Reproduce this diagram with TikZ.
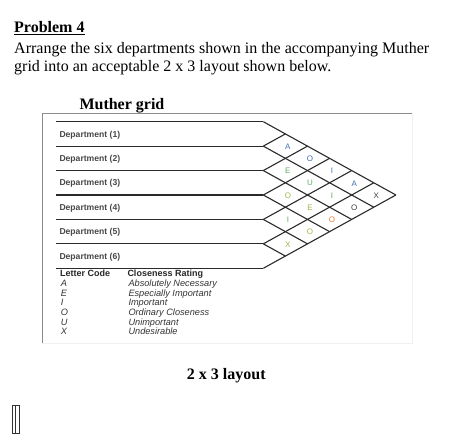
\documentclass[tikz,border=0pt]{standalone}
\usepackage{fontspec}
\setmainfont{Liberation Serif}
\newfontfamily\gridfont{Liberation Sans}
\usepackage{tikz}
\usepackage{color}
\usetikzlibrary{positioning}

\definecolor{codeblue}{HTML}{3F6FB0}
\definecolor{codegreen}{HTML}{5FAA62}
\definecolor{codelime}{HTML}{97B84E}
\definecolor{codeorange}{HTML}{EA7A36}
\definecolor{codegray}{HTML}{404040}
\definecolor{gridline}{HTML}{2A2A2A}

\tikzset{
  heading/.style={anchor=base west,inner sep=0pt,font=\fontsize{16}{18}\selectfont},
  deptlabel/.style={anchor=base west,inner sep=0pt,text=black!72,font=\gridfont\bfseries\fontsize{8.6}{10}\selectfont},
  legendhead/.style={anchor=base west,inner sep=0pt,text=black!85,font=\gridfont\bfseries\fontsize{9}{10}\selectfont},
  legenditem/.style={anchor=base west,inner sep=0pt,text=black!80,font=\gridfont\itshape\fontsize{9.2}{10}\selectfont},
  code/.style={inner sep=0pt,font=\gridfont\fontsize{8}{8}\selectfont}
}

\begin{document}
\begin{tikzpicture}[x=1pt,y=-1pt]
  \useasboundingbox (0,0) rectangle (474,442);
  % problem text
  \node[heading] (prob) at (14,32.5) {\textbf{\underline{Problem 4}}};
  \node[heading] (line1) at (14,53.3) {Arrange the six departments shown in the accompanying Muther};
  \node[heading] (line2) at (14,71.8) {grid into an acceptable 2 x 3 layout shown below.};
  \node[heading] (mgrid) at (79.3,109) {\textbf{Muther grid}};
  % frame of the grid picture
  \draw[black!6,line width=0.8pt] (412,113.3) -- (412,343) -- (42,343);
  \draw[black!45,line width=0.9pt] (42,343) -- (42,113.3) -- (412,113.3);
  % rows and diamonds
  \coordinate (apex) at (395.9,195);
  \foreach \k in {0,...,6}{
    \coordinate (l\k) at (56,121.7+\k*24.43);
    \coordinate (b\k) at (263.3,121.7+\k*24.43);
    \draw[gridline,line width=1.1pt] (l\k) -- (b\k);
  }
  \foreach \k in {0,...,5}
    \draw[gridline,line width=1.1pt] (b\k) -- (263.3+6*22.1-\k*22.1,121.7+6*12.215+\k*12.215);
  \foreach \k in {1,...,6}
    \draw[gridline,line width=1.1pt] (b\k) -- (263.3+\k*22.1,121.7+\k*12.215);
  % department names
  \foreach \d in {1,...,6}
    \node[deptlabel] (dept\d) at (59.3,137.1+\d*24.43-24.43) {Department (\d)};
  % closeness codes
  \foreach \i/\j/\c/\col in {1/2/A/codeblue,1/3/O/codeblue,1/4/I/codeblue,1/5/A/codeblue,1/6/X/codegray,
      2/3/E/codegreen,2/4/U/codegreen,2/5/I/codegreen,2/6/O/codegray,
      3/4/O/codelime,3/5/E/codelime,3/6/O/codeorange,
      4/5/I/codegreen,4/6/O/codelime,
      5/6/X/codelime}
    \node[code,text=\col] (cell\i\j) at (265.8+\j*22.1-\i*22.1,122.2+\i*12.215+\j*12.215-12.215) {\c};
  % legend
  \node[legendhead] (lettercode) at (60,276.5) {Letter Code};
  \node[legendhead] (rating) at (127.3,276.5) {Closeness Rating};
  \foreach \n/\l/\t in {0/A/Absolutely Necessary,1/E/Especially Important,2/I/Important,
      3/O/Ordinary Closeness,4/U/Unimportant,5/X/Undesirable}{
    \node[legenditem] (code\n) at (60.7,286.6+\n*9.6) {\l};
    \node[legenditem] (desc\n) at (128.3,286.6+\n*9.6) {\t};
  }
  % layout caption
  \node[heading,anchor=base] (layout) at (226.3,379) {\textbf{2 x 3 layout}};
  % text cursor
  \draw[black!80,line width=0.6pt] (12.3,405.7) rectangle (19.7,433.3);
  \draw[black!80,line width=0.6pt] (15,405.7) -- (15,433.3);
\end{tikzpicture}
\end{document}
